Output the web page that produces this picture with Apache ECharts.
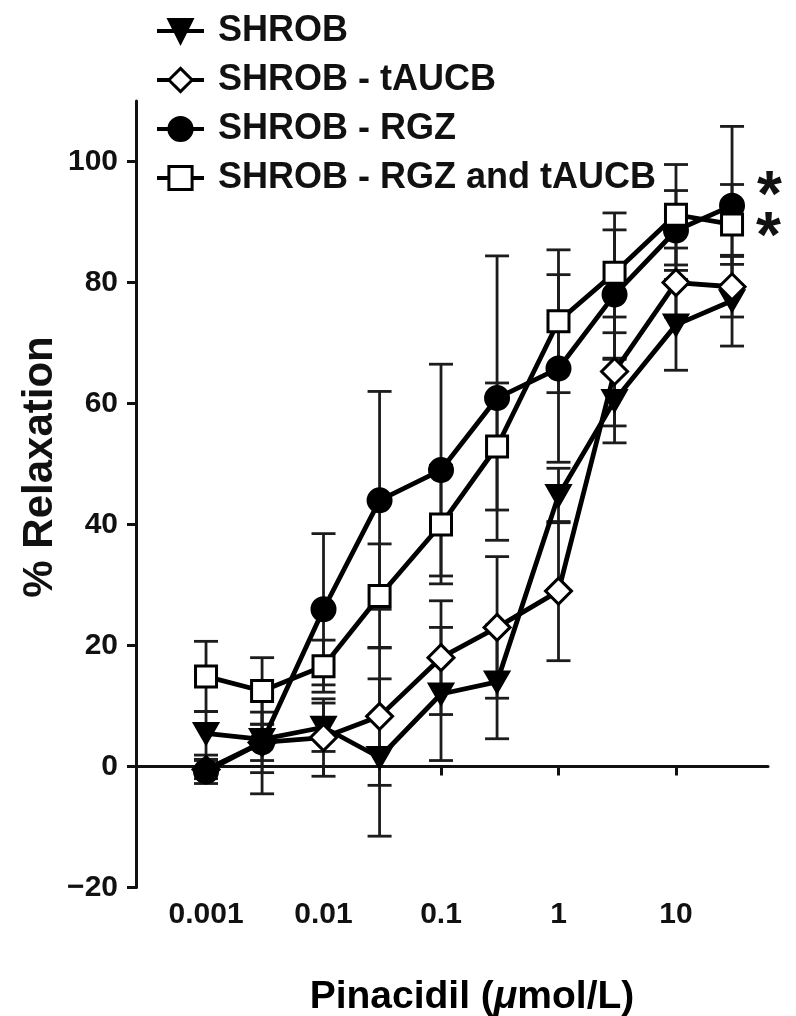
<!DOCTYPE html>
<html><head><meta charset="utf-8">
<script src="https://cdn.jsdelivr.net/npm/echarts@6/dist/echarts.min.js"></script>
<style>html,body{margin:0;padding:0;background:#fff}#c{width:796px;height:1016px}</style>
</head><body><div id="c"></div>
<script>
// ---- data ----
const doses = [0.001, 0.003, 0.01, 0.03, 0.1, 0.3, 1, 3, 10, 30];
const xTickValues = [0.001, 0.01, 0.1, 1, 10];
const xTickLabels = ['0.001', '0.01', '0.1', '1', '10'];
const yTickValues = [-20, 0, 20, 40, 60, 80, 100];
const seriesNames = ['SHROB', 'SHROB - tAUCB', 'SHROB - RGZ', 'SHROB - RGZ and tAUCB'];

const shrobMean  = [5.5, 4.5, 6.5, 1.5, 12, 14, 44.8, 60.5, 73, 77];
const shrobSem   = [3.6, 9, 4, 13, 11, 9.4, 4.5, 7, 7.5, 7.5];
const taucbMean  = [-0.5, 4, 4.8, 8.3, 18, 23, 29, 65.3, 80, 79.3];
const taucbSem   = [1.5, 5, 6.4, 11.4, 9.4, 11.7, 11.5, 9, 5.7, 5];
const rgzMean    = [-0.8, 4, 26, 44, 49, 60.9, 65.8, 78, 88.6, 92.7];
const rgzSem     = [2, 3, 12.5, 18, 17.5, 23.5, 15.5, 10.7, 6.6, 13.1];
const bothMean   = [14.9, 12.5, 16.6, 28.2, 40, 52.9, 73.6, 81.6, 91.2, 89.6];
const bothSem    = [5.8, 5.5, 4.3, 8.6, 9.8, 10.5, 11.8, 9.9, 8.3, 6.6];

// significance markers: series index, point index, text
const asterisks = [
  { series: 2, index: 9, text: '*' },
  { series: 3, index: 9, text: '*' }
];

// ---- styles ----
const FONT = '"Liberation Sans", Arial, Helvetica, sans-serif';
const INK = '#111';
const means = [shrobMean, taucbMean, rgzMean, bothMean];
const sems = [shrobSem, taucbSem, rgzSem, bothSem];
const symbolDefs = [
  { symbol: 'triangle', size: [23, 20], rotate: 180, fill: '#000' },
  { symbol: 'diamond', size: 26, rotate: 0, fill: '#fff' },
  { symbol: 'circle', size: 23, rotate: 0, fill: '#000' },
  { symbol: 'rect', size: 21, rotate: 0, fill: '#fff' }
];
const asteriskOffsets = { 2: [0, -7], 3: [0, 15] };

function errRender(params, api) {
  const x = api.value(0), m = api.value(1), e = api.value(2);
  const top = api.coord([x, m + e]);
  const bot = api.coord([x, m - e]);
  const hw = 12;
  const st = { stroke: '#1c1c1c', lineWidth: 2.8 };
  return {
    type: 'group',
    children: [
      { type: 'line', shape: { x1: top[0], y1: top[1], x2: bot[0], y2: bot[1] }, style: st },
      { type: 'line', shape: { x1: top[0] - hw, y1: top[1], x2: top[0] + hw, y2: top[1] }, style: st },
      { type: 'line', shape: { x1: bot[0] - hw, y1: bot[1], x2: bot[0] + hw, y2: bot[1] }, style: st }
    ]
  };
}

const series = [];
seriesNames.forEach((name, s) => {
  series.push({
    name: 'err' + s,
    type: 'custom',
    renderItem: errRender,
    encode: { x: 0, y: 1 },
    data: doses.map((d, i) => [d, means[s][i], sems[s][i]]),
    z: 1,
    silent: true
  });
});
seriesNames.forEach((name, s) => {
  const def = symbolDefs[s];
  const data = doses.map((d, i) => {
    const item = { value: [d, means[s][i]] };
    const a = asterisks.find(q => q.series === s && q.index === i);
    if (a) {
      item.label = {
        show: true, formatter: a.text, position: 'right', distance: 12,
        offset: asteriskOffsets[s], fontSize: 64, fontWeight: 'bold',
        fontFamily: FONT, color: INK
      };
    }
    return item;
  });
  series.push({
    name: name,
    type: 'line',
    data: data,
    symbol: def.symbol,
    symbolSize: def.size,
    symbolRotate: def.rotate,
    showAllSymbol: true,
    lineStyle: { color: '#000', width: 4.8 },
    itemStyle: { color: def.fill, borderColor: '#000', borderWidth: 3 },
    z: 2 + s,
    animation: false
  });
});

const chart = echarts.init(document.getElementById('c'), null, { renderer: 'canvas' });
chart.setOption({
  backgroundColor: '#fff',
  animation: false,
  grid: { left: 136, right: 28, top: 101, bottom: 128.4, containLabel: false },
  legend: {
    data: seriesNames,
    orient: 'vertical',
    left: 155,
    top: 13,
    padding: 0,
    itemWidth: 47,
    itemHeight: 29,
    itemGap: 13,
    lineStyle: { width: 4, color: '#000' },
    itemStyle: { borderWidth: 3, borderColor: '#000' },
    textStyle: { fontSize: 36, fontWeight: 'bold', fontFamily: FONT, color: INK, lineHeight: 36, padding: [0, 0, 0, 9] },
    selectedMode: false
  },
  xAxis: [
    {
      type: 'log', logBase: 10, min: 2.535e-4, max: 60.7,
      axisLine: { show: true, onZero: true, lineStyle: { color: INK, width: 3 } },
      axisTick: { show: true, customValues: xTickValues, length: 9, lineStyle: { color: INK, width: 3 } },
      axisLabel: { show: false },
      splitLine: { show: false }
    },
    {
      type: 'log', logBase: 10, min: 2.535e-4, max: 60.7, position: 'bottom',
      axisLine: { show: false, onZero: false },
      axisTick: { show: false },
      axisLabel: {
        show: true, customValues: xTickValues, margin: 12,
        fontSize: 30, fontWeight: 'bold', fontFamily: FONT, color: INK,
        formatter: v => {
          for (let i = 0; i < xTickValues.length; i++) {
            if (Math.abs(Math.log10(v) - Math.log10(xTickValues[i])) < 1e-6) return xTickLabels[i];
          }
          return '';
        }
      },
      splitLine: { show: false }
    }
  ],
  yAxis: {
    type: 'value', min: -20, max: 110, interval: 20,
    axisLine: { show: true, onZero: false, lineStyle: { color: INK, width: 3 } },
    axisTick: { show: true, customValues: yTickValues, length: 9, lineStyle: { color: INK, width: 3 } },
    axisLabel: {
      customValues: yTickValues, margin: 18,
      fontSize: 30, fontWeight: 'bold', fontFamily: FONT, color: INK,
      formatter: v => String(v).replace('-', '\u2212')
    },
    splitLine: { show: false }
  },
  graphic: [
    {
      type: 'text', x: 40, y: 467, rotation: Math.PI / 2,
      style: { text: '% Relaxation', fontSize: 42, fontWeight: 'bold', fontFamily: FONT, fill: INK, align: 'center', verticalAlign: 'middle' }
    },
    {
      type: 'text', x: 472, y: 997,
      style: {
        text: '{b|Pinacidil (}{i|\u03bc}{b|mol/L)}',
        align: 'center', verticalAlign: 'middle',
        rich: {
          b: { fontSize: 39, fontWeight: 'bold', fontFamily: FONT, color: INK },
          i: { fontSize: 39, fontWeight: 'bold', fontStyle: 'italic', fontFamily: FONT, color: INK }
        }
      }
    }
  ],
  series: series
});
</script></body></html>
